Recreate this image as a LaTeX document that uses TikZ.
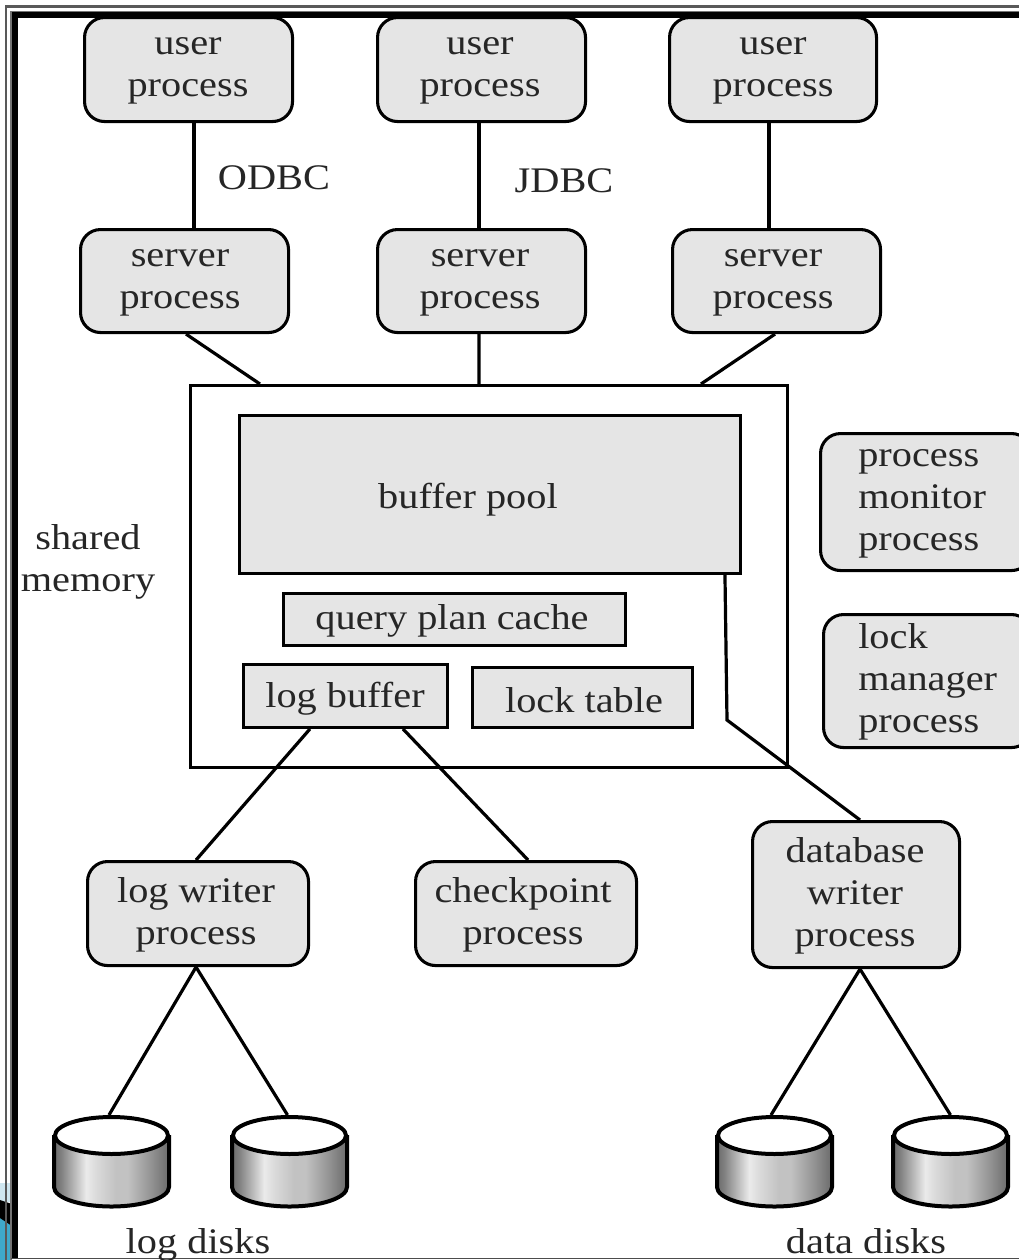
\documentclass[tikz,border=0pt]{standalone}
\usepackage{fontspec}
\setmainfont[FakeStretch=1.12]{Liberation Serif}
\usetikzlibrary{shapes.geometric}
\definecolor{boxgray}{gray}{0.9}
\definecolor{deskblue}{HTML}{3FA9CB}
\definecolor{desklight}{HTML}{CFE6EF}
\pgfdeclarehorizontalshading{diskshade}{100bp}{
  color(0bp)=(black!58);
  color(25bp)=(black!58);
  color(28bp)=(black!50);
  color(39bp)=(black!8);
  color(43bp)=(black!14);
  color(52bp)=(black!24);
  color(57bp)=(black!24);
  color(67bp)=(black!42);
  color(75bp)=(black!58);
  color(100bp)=(black!58)}
\tikzset{
  x=0.75pt,y=-0.75pt,
  sx/.style={xshift=#1*0.75pt},
  lbl/.style={font=\fontsize{27}{31.3}\selectfont,align=center,text=black!85,inner sep=0pt},
  proc/.style={draw=black,line width=2.3pt,fill=boxgray,rounded corners=15pt,inner sep=0pt},
  mem/.style={draw=black,line width=2.2pt,fill=boxgray,inner sep=0pt},
  conn/.style={draw=black,line width=2.4pt},
  diskline/.style={draw=black,line width=3pt},
}
\newcommand{\pbox}[6]{% name, x1,y1,x2,y2, style
  \node[#6,minimum width={(#4-#2-1)*0.75pt},minimum height={(#5-#3-1)*0.75pt},anchor=north west] (#1) at (#2-1,#3-1) {};}
\newcommand{\disk}[3]{% name, x-left, top y
  \pgfmathsetmacro{\xr}{#2+115}
  \shade[shading=diskshade]
     (#2,#3+20) -- (#2,#3+72) arc[start angle=180,end angle=360,x radius=57.5,y radius=-19.5] -- (\xr,#3+20) -- cycle;
  \draw[diskline] (#2,#3+20) -- (#2,#3+72) arc[start angle=180,end angle=360,x radius=57.5,y radius=-19.5] -- (\xr,#3+20);
  \node[diskline,fill=white,ellipse,minimum width=113*0.75pt,minimum height=37*0.75pt,inner sep=0pt,anchor=north] (#1) at (#2+57.5,#3) {};
}
\begin{document}
\begin{tikzpicture}
\useasboundingbox (0,0) rectangle (1019,1260);
\begin{scope}
\clip (0,0) rectangle (1019,1260);
\fill[white] (0,0) rectangle (1019,1260);
% slide decoration behind the frame
\fill[desklight] (0,1183) rectangle (12,1202);
\fill[deskblue] (0,1218) rectangle (12,1260);
\fill[black] (0,1200) -- (12,1204) -- (12,1226) -- (0,1218) -- cycle;
% frame
\draw[black!65,line width=1.6pt] (6,1260) -- (6,6.5) -- (1019,6.5);
\draw[black!55,line width=1pt] (11,1260) -- (11,12) -- (1019,12);
\draw[black,line width=4pt] (15,1258) -- (15,15) -- (1019,15);
\draw[black!70,line width=1.4pt] (11,1258.5) -- (1019,1258.5);

\pbox{sm}{190}{385}{788}{768}{mem,fill=white}
\node[lbl] (shm) at (88,562) {shared\\memory};

\pbox{u1}{84}{17}{293}{122}{proc}
\pbox{u2}{377}{17}{586}{122}{proc}
\pbox{u3}{669}{17}{877}{122}{proc}
\pbox{s1}{80}{229}{289}{333}{proc}
\pbox{s2}{377}{229}{586}{333}{proc}
\pbox{s3}{672}{229}{881}{333}{proc}
\node[lbl] (u1t) at (188,71) {user\\process};
\node[lbl] (u2t) at (480,71) {user\\process};
\node[lbl] (u3t) at (773,71) {user\\process};
\node[lbl] (s1t) at (180,283) {server\\process};
\node[lbl] (s2t) at (480,283) {server\\process};
\node[lbl] (s3t) at (773,283) {server\\process};

\pbox{bp}{239}{415}{741}{574}{mem}
\pbox{qp}{283}{593}{626}{646}{mem}
\pbox{lb}{243}{664}{448}{728}{mem}
\pbox{lt}{472}{667}{693}{728}{mem}
\node[lbl] (bpt) at (468,500) {buffer pool};
\node[lbl] (qpt) at (452,621) {query plan cache};
\node[lbl] (lbt) at (345,699) {log buffer};
\node[lbl] (ltt) at (584,700) {lock table};

\pbox{pm}{820}{433}{1032}{571}{proc}
\node[lbl,align=left,anchor=west] (pmt) at (858,504) {process\\monitor\\process};
\pbox{lm}{823}{614}{1032}{748}{proc}
\node[lbl,align=left,anchor=west] (lmt) at (858,682) {lock\\manager\\process};

\pbox{lw}{87}{861}{309}{966}{proc}
\pbox{cp}{415}{861}{637}{966}{proc}
\pbox{dw}{752}{821}{960}{968}{proc}
\node[lbl] (lwt) at (196,915) {log writer\\process};
\node[lbl] (cpt) at (523,915) {checkpoint\\process};
\node[lbl] (dwt) at (855,896) {database\\writer\\process};

\disk{d1}{54}{1115}
\disk{d2}{232}{1115}
\disk{d3}{717}{1115}
\disk{d4}{893}{1115}

\node[lbl] (od) at (274,178) {ODBC};
\node[lbl] (jd) at (564,181) {JDBC};
\node[lbl,anchor=base] (ld) at (198,1253) {log disks};
\node[lbl,anchor=base] (dd) at (866,1253) {data disks};

% connectors
\draw[conn] ([sx=5.5]u1.south) -- ([sx=9.5]s1.north);
\draw[conn] ([sx=-2.5]u2.south) -- ([sx=-2.5]s2.north);
\draw[conn] ([sx=-4]u3.south) -- ([sx=-7.5]s3.north);
\draw[conn] ([sx=1.5]s1.south) -- ([sx=-229]sm.north);
\draw[conn] ([sx=-2.5]s2.south) -- ([sx=-10]sm.north);
\draw[conn] ([sx=-1.5]s3.south) -- ([sx=212]sm.north);
\draw[conn] ([sx=-35.5]lb.south) -- ([sx=-2]lw.north);
\draw[conn] ([sx=57.5]lb.south) -- ([sx=2]cp.north);
\coordinate (bend) at (727,720);
\draw[conn,line join=miter] ([sx=235]bp.south) -- (bend) -- ([sx=4]dw.north);
\draw[conn] ([sx=-2]lw.south) -- ([sx=-2.5]d1.north);
\draw[conn] ([sx=-2]lw.south) -- ([sx=-2]d2.north);
\draw[conn] ([sx=4]dw.south) -- ([sx=-3.5]d3.north);
\draw[conn] ([sx=4]dw.south) -- (d4.north);
\end{scope}
\end{tikzpicture}
\end{document}
